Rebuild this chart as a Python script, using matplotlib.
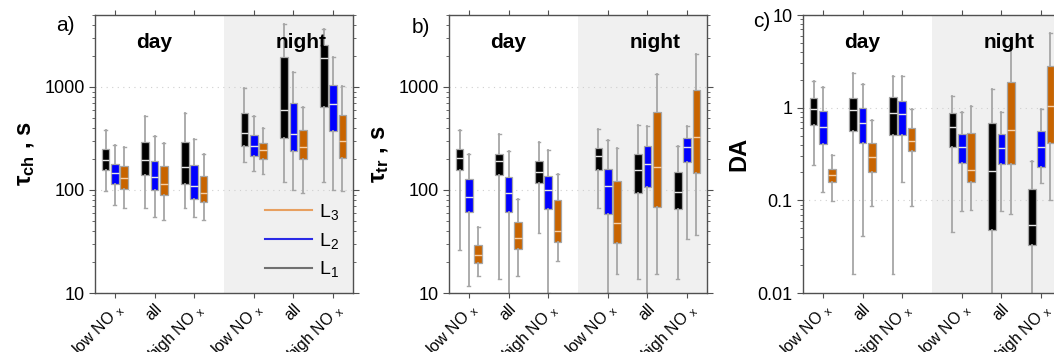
import matplotlib
matplotlib.use("Agg")
import matplotlib.pyplot as plt
from matplotlib.lines import Line2D
from matplotlib.ticker import LogLocator, NullFormatter

plt.rcParams['font.family'] = ['Liberation Sans', 'DejaVu Sans']
plt.rcParams['mathtext.fontset'] = 'custom'
plt.rcParams['mathtext.rm'] = 'Liberation Sans'
plt.rcParams['mathtext.bf'] = 'Liberation Sans:bold'
plt.rcParams['mathtext.it'] = 'Liberation Sans:italic'

# groups: day (low NOx, all, high NOx), night (low NOx, all, high NOx)
groups = ["low NO $_\\mathregular{x}$", "all", "high NO $_\\mathregular{x}$"] * 2
series = ["L$_1$", "L$_2$", "L$_3$"]

# chemical lifetime tau_ch [s]; rows are L1, L2, L3
ch_lo = [[98.5, 66.8, 66.8, 188, 119, 119],
         [71.5, 54.7, 54.7, 154, 100, 100],
         [66.8, 51.2, 51.2, 144, 92.8, 97]]
ch_q1 = [[156, 141, 114, 265, 322, 635],
         [114, 100, 82.4, 214, 241, 377],
         [102, 89.4, 75.9, 199, 201, 206]]
ch_med = [[194, 195, 166, 360, 603, 1900],
          [145, 133, 108.5, 265, 347, 679],
          [131, 114, 94.2, 243, 261, 297]]
ch_q3 = [[250, 290, 290, 555, 1940, 2580],
         [180, 193, 175, 340, 700, 1045],
         [170, 170, 138, 286, 380, 531]]
ch_hi = [[383, 519, 560, 977, 4090, 3680],
         [275, 334, 313, 519, 1400, 1940],
         [259, 286, 224, 400, 640, 1023]]

# transport time tau_tr [s]
tr_lo = [[26.4, 13.7, 37.9, 66.8, 13.7, 13.7],
         [11.8, 9, 10, 10, 10, 33.4],
         [14.7, 14.7, 20.3, 15.4, 15.4, 36.8]]
tr_q1 = [[157, 141, 117, 156, 93.5, 65.4],
         [61.1, 61.1, 64.9, 58.9, 106, 187],
         [19.6, 26.7, 31.0, 30.6, 67.9, 145]]
tr_med = [[205, 190, 148.5, 215, 156, 94.9],
          [86.1, 94.2, 100, 110, 180, 261],
          [23.2, 34.0, 39.7, 47.4, 167, 327]]
tr_q3 = [[248, 224, 191, 256, 224, 148.5],
         [128, 133, 138, 160, 265, 318],
         [29.4, 48.9, 80.6, 122, 568, 935]]
tr_hi = [[380, 350, 294, 391, 425, 269],
         [224, 239, 246, 308, 418, 418],
         [44.1, 81.8, 143, 258, 1336, 2109]]

# Damkoehler number DA
da_lo = [[0.239, 0.0159, 0.0159, 0.045, 0.005, 0.005],
         [0.123, 0.0411, 0.159, 0.0766, 0.0766, 0.152],
         [0.0976, 0.0868, 0.0868, 0.0786, 0.0705, 0.100]]
da_q1 = [[0.654, 0.559, 0.506, 0.372, 0.0481, 0.0326],
         [0.401, 0.418, 0.506, 0.254, 0.249, 0.228],
         [0.157, 0.204, 0.342, 0.157, 0.248, 0.414]]
da_med = [[0.975, 0.936, 0.876, 0.622, 0.208, 0.0545],
          [0.618, 0.682, 0.847, 0.378, 0.363, 0.375],
          [0.190, 0.297, 0.436, 0.210, 0.573, 1.05]]
da_q3 = [[1.28, 1.28, 1.29, 0.876, 0.677, 0.134],
         [0.913, 0.983, 1.17, 0.519, 0.519, 0.554],
         [0.220, 0.418, 0.597, 0.532, 1.90, 2.80]]
da_hi = [[1.96, 2.39, 2.22, 1.35, 1.58, 0.269],
         [1.67, 1.82, 2.18, 0.898, 0.898, 0.975],
         [0.305, 0.741, 0.959, 1.05, 4.39, 6.33]]

positions = [1, 2, 3, 4.5, 5.5, 6.5]
offsets = [-0.235, 0.0, 0.235]
fills = ["black", "#0000ff", "#c86400"]
med_colors = ["#e6e6e6", "#e6e6e6", "#f6cfa6"]
legend_colors = ["#707070", "#2a2ae6", "#e8a060"]
edge = "#a6a6a6"

panels = [
    ("a)", "τ$_{\\mathbf{ch}}$ , s", (ch_lo, ch_q1, ch_med, ch_q3, ch_hi),
     (10, 5000), [10, 100, 1000], ["10", "100", "1000"], (-0.115, 0.962)),
    ("b)", "τ$_{\\mathbf{tr}}$ , s", (tr_lo, tr_q1, tr_med, tr_q3, tr_hi),
     (10, 5000), [10, 100, 1000], ["10", "100", "1000"], (-0.11, 0.955)),
    ("c)", "DA", (da_lo, da_q1, da_med, da_q3, da_hi),
     (0.01, 10), [0.01, 0.1, 1, 10], ["0.01", "0.1", "1", "10"], (-0.16, 0.975)),
]
lefts = [95, 449, 803]

fig = plt.figure(figsize=(10.54, 3.52), dpi=100)
W, H = 1054, 352

for (tag, ylabel, stats, ylim, yticks, ylabels, tagpos), left in zip(panels, lefts):
    ax = fig.add_axes([left / W, 59 / H, 258 / W, 278 / H])
    ax.set_yscale("log")
    ax.axvspan(3.75, 7.0, color="#f0f0f0", zorder=0, lw=0)
    for t in yticks:
        ax.axhline(t, color="#cfcfcf", ls=(0, (1, 4)), lw=0.8, zorder=0.5)

    lo, q1, med, q3, hi = stats
    for k in range(3):
        bstats = [dict(whislo=lo[k][i], q1=q1[k][i], med=med[k][i],
                       q3=q3[k][i], whishi=hi[k][i], fliers=[])
                  for i in range(len(positions))]
        ax.bxp(bstats, positions=[p + offsets[k] for p in positions],
               widths=0.19, patch_artist=True, showfliers=False,
               manage_ticks=False, capwidths=0.07,
               boxprops=dict(facecolor=fills[k], edgecolor=edge, lw=0.9),
               medianprops=dict(color=med_colors[k], lw=1.0),
               whiskerprops=dict(color=edge, lw=1.3),
               capprops=dict(color=edge, lw=1.0))

    ax.set_xlim(0.5, 7.0)
    ax.set_ylim(*ylim)
    ax.set_yticks(yticks)
    ax.set_yticklabels(ylabels)
    ax.yaxis.set_minor_locator(LogLocator(base=10, subs=range(2, 10)))
    ax.yaxis.set_minor_formatter(NullFormatter())
    ax.set_xticks(positions)
    ax.set_xticklabels(groups, rotation=45, ha="right",
                       rotation_mode="anchor", fontsize=11.5)
    ax.tick_params(axis="y", which="both", right=True, direction="out",
                   labelsize=13, colors="#505050", labelcolor="black")
    ax.tick_params(axis="y", which="major", length=4)
    ax.tick_params(axis="y", which="minor", length=2.5)
    ax.tick_params(axis="x", top=True, direction="out", length=3.5,
                   colors="#505050", labelcolor="black", pad=2)
    for s in ax.spines.values():
        s.set_color("#505050")
        s.set_linewidth(1.0)

    ax.set_ylabel(ylabel, fontsize=17, fontweight="bold", labelpad=5)
    ax.text(2.0, 0.9, "day", transform=ax.get_xaxis_transform(),
            ha="center", va="center", fontsize=15, fontweight="bold")
    ax.text(5.7, 0.9, "night", transform=ax.get_xaxis_transform(),
            ha="center", va="center", fontsize=15, fontweight="bold")
    ax.text(tagpos[0], tagpos[1], tag, transform=ax.transAxes,
            ha="center", va="center", fontsize=15)

    if tag == "a)":
        handles = [Line2D([], [], color=legend_colors[k], lw=1.5) for k in (2, 1, 0)]
        ax.legend(handles, [series[k] for k in (2, 1, 0)], loc="lower right",
                  frameon=False, fontsize=14, handlelength=2.4,
                  labelspacing=0.45, borderaxespad=0.3, handletextpad=0.4)

fig.savefig("out.png", dpi=100, facecolor="white")
